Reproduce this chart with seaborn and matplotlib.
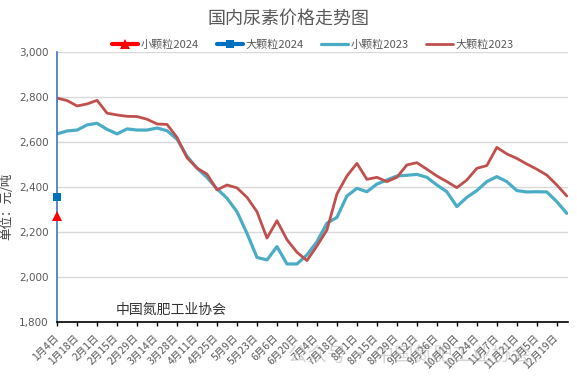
import numpy as np
import seaborn as sns
import matplotlib.pyplot as plt

# weekly prices, yuan/ton
small_2023 = [2636, 2649, 2653, 2676, 2683, 2656, 2636, 2658, 2653, 2653, 2662, 2650,
              2612, 2536, 2484, 2442, 2392, 2350, 2290, 2194, 2087, 2076, 2135, 2058,
              2058, 2098, 2157, 2239, 2265, 2360, 2394, 2379, 2413, 2431, 2449, 2452,
              2456, 2443, 2409, 2379, 2313, 2354, 2384, 2424, 2446, 2424, 2384, 2378,
              2379, 2378, 2335, 2283]
large_2023 = [2795, 2784, 2760, 2769, 2785, 2728, 2720, 2714, 2713, 2701, 2680, 2678,
              2620, 2530, 2484, 2457, 2387, 2409, 2396, 2354, 2290, 2173, 2250, 2166,
              2110, 2073, 2138, 2209, 2369, 2449, 2505, 2434, 2443, 2424, 2443, 2498,
              2508, 2479, 2449, 2424, 2397, 2431, 2483, 2495, 2576, 2547, 2527, 2502,
              2479, 2453, 2409, 2360]
small_2024 = [2270]
large_2024 = [2355]
tick_labels = ['1月4日', '1月18日', '2月1日', '2月15日', '2月29日', '3月14日', '3月28日',
               '4月11日', '4月25日', '5月9日', '5月23日', '6月6日', '6月20日', '7月4日',
               '7月18日', '8月1日', '8月15日', '8月29日', '9月12日', '9月26日', '10月10日',
               '10月24日', '11月7日', '11月21日', '12月5日', '12月19日']

sns.set_style('white')
plt.rcParams['font.family'] = ['Noto Sans CJK SC', 'DejaVu Sans']

week = np.arange(len(small_2023))
week_2024 = np.arange(len(small_2024))

fig, ax = plt.subplots(figsize=(5.77, 3.82), dpi=100)
fig.subplots_adjust(left=0.099, right=0.984, top=0.864, bottom=0.157)

sns.lineplot(x=week_2024, y=small_2024, color='#FF0000', marker='^', markersize=7,
             markeredgewidth=0, lw=3, ax=ax, label='小颗粒2024', clip_on=False, zorder=5)
sns.lineplot(x=week_2024, y=large_2024, color='#0070C0', marker='s', markersize=6,
             markeredgewidth=0, lw=3, ax=ax, label='大颗粒2024', clip_on=False, zorder=5)
sns.lineplot(x=week, y=small_2023, color='#4BACC6', lw=2.3, ax=ax, label='小颗粒2023')
sns.lineplot(x=week, y=large_2023, color='#C0504D', lw=2.0, ax=ax, label='大颗粒2023')

ax.set_xlim(0, 51.1)
ax.set_ylim(1800, 3000)
ax.set_yticks(range(1800, 3001, 200))
ax.set_yticklabels([f'{v:,}' for v in range(1800, 3001, 200)], fontsize=7.5, color='#595959',
                   family=['DejaVu Sans'])
ax.set_xticks(week[::2])
ax.set_xticklabels(tick_labels, rotation=45, ha='right', va='center', rotation_mode='anchor',
                   fontsize=7.5, color='#595959')
ax.tick_params(axis='x', length=3, width=1, color='black', direction='out', bottom=True, pad=7)
ax.tick_params(axis='y', length=0, pad=6)
ax.grid(axis='y', color='#D9D9D9', lw=1)
ax.set_axisbelow(True)
for s in ['top', 'right']:
    ax.spines[s].set_visible(False)
ax.spines['left'].set_color('#4472C4')
ax.spines['left'].set_linewidth(1.2)
ax.spines['bottom'].set_color('black')
ax.spines['bottom'].set_linewidth(1.2)
ax.set_xlabel('')
ax.set_ylabel('单位：元/吨', fontsize=9, color='#404040', labelpad=2)
ax.yaxis.set_label_coords(-0.085, 0.43)

ax.legend(loc='lower center', bbox_to_anchor=(0.5, 0.99), ncol=4, frameon=False,
          fontsize=8, labelcolor='#595959', handlelength=2.4, handletextpad=0.2,
          columnspacing=1.6, borderaxespad=0)

fig.suptitle('国内尿素价格走势图', x=0.5, y=0.975, fontsize=13, color='#595959')

# watermark / logo text
ax.text(0.115, 0.045, '中国氮肥工业协会', transform=ax.transAxes, fontsize=10, color='#333333',
        va='center')
fig.text(0.5, 0.07, '公众号 · 中国氮肥工业协会', fontsize=14, color='#888888', alpha=0.35,
         ha='left', va='center')

fig.savefig('out.png', dpi=100)
